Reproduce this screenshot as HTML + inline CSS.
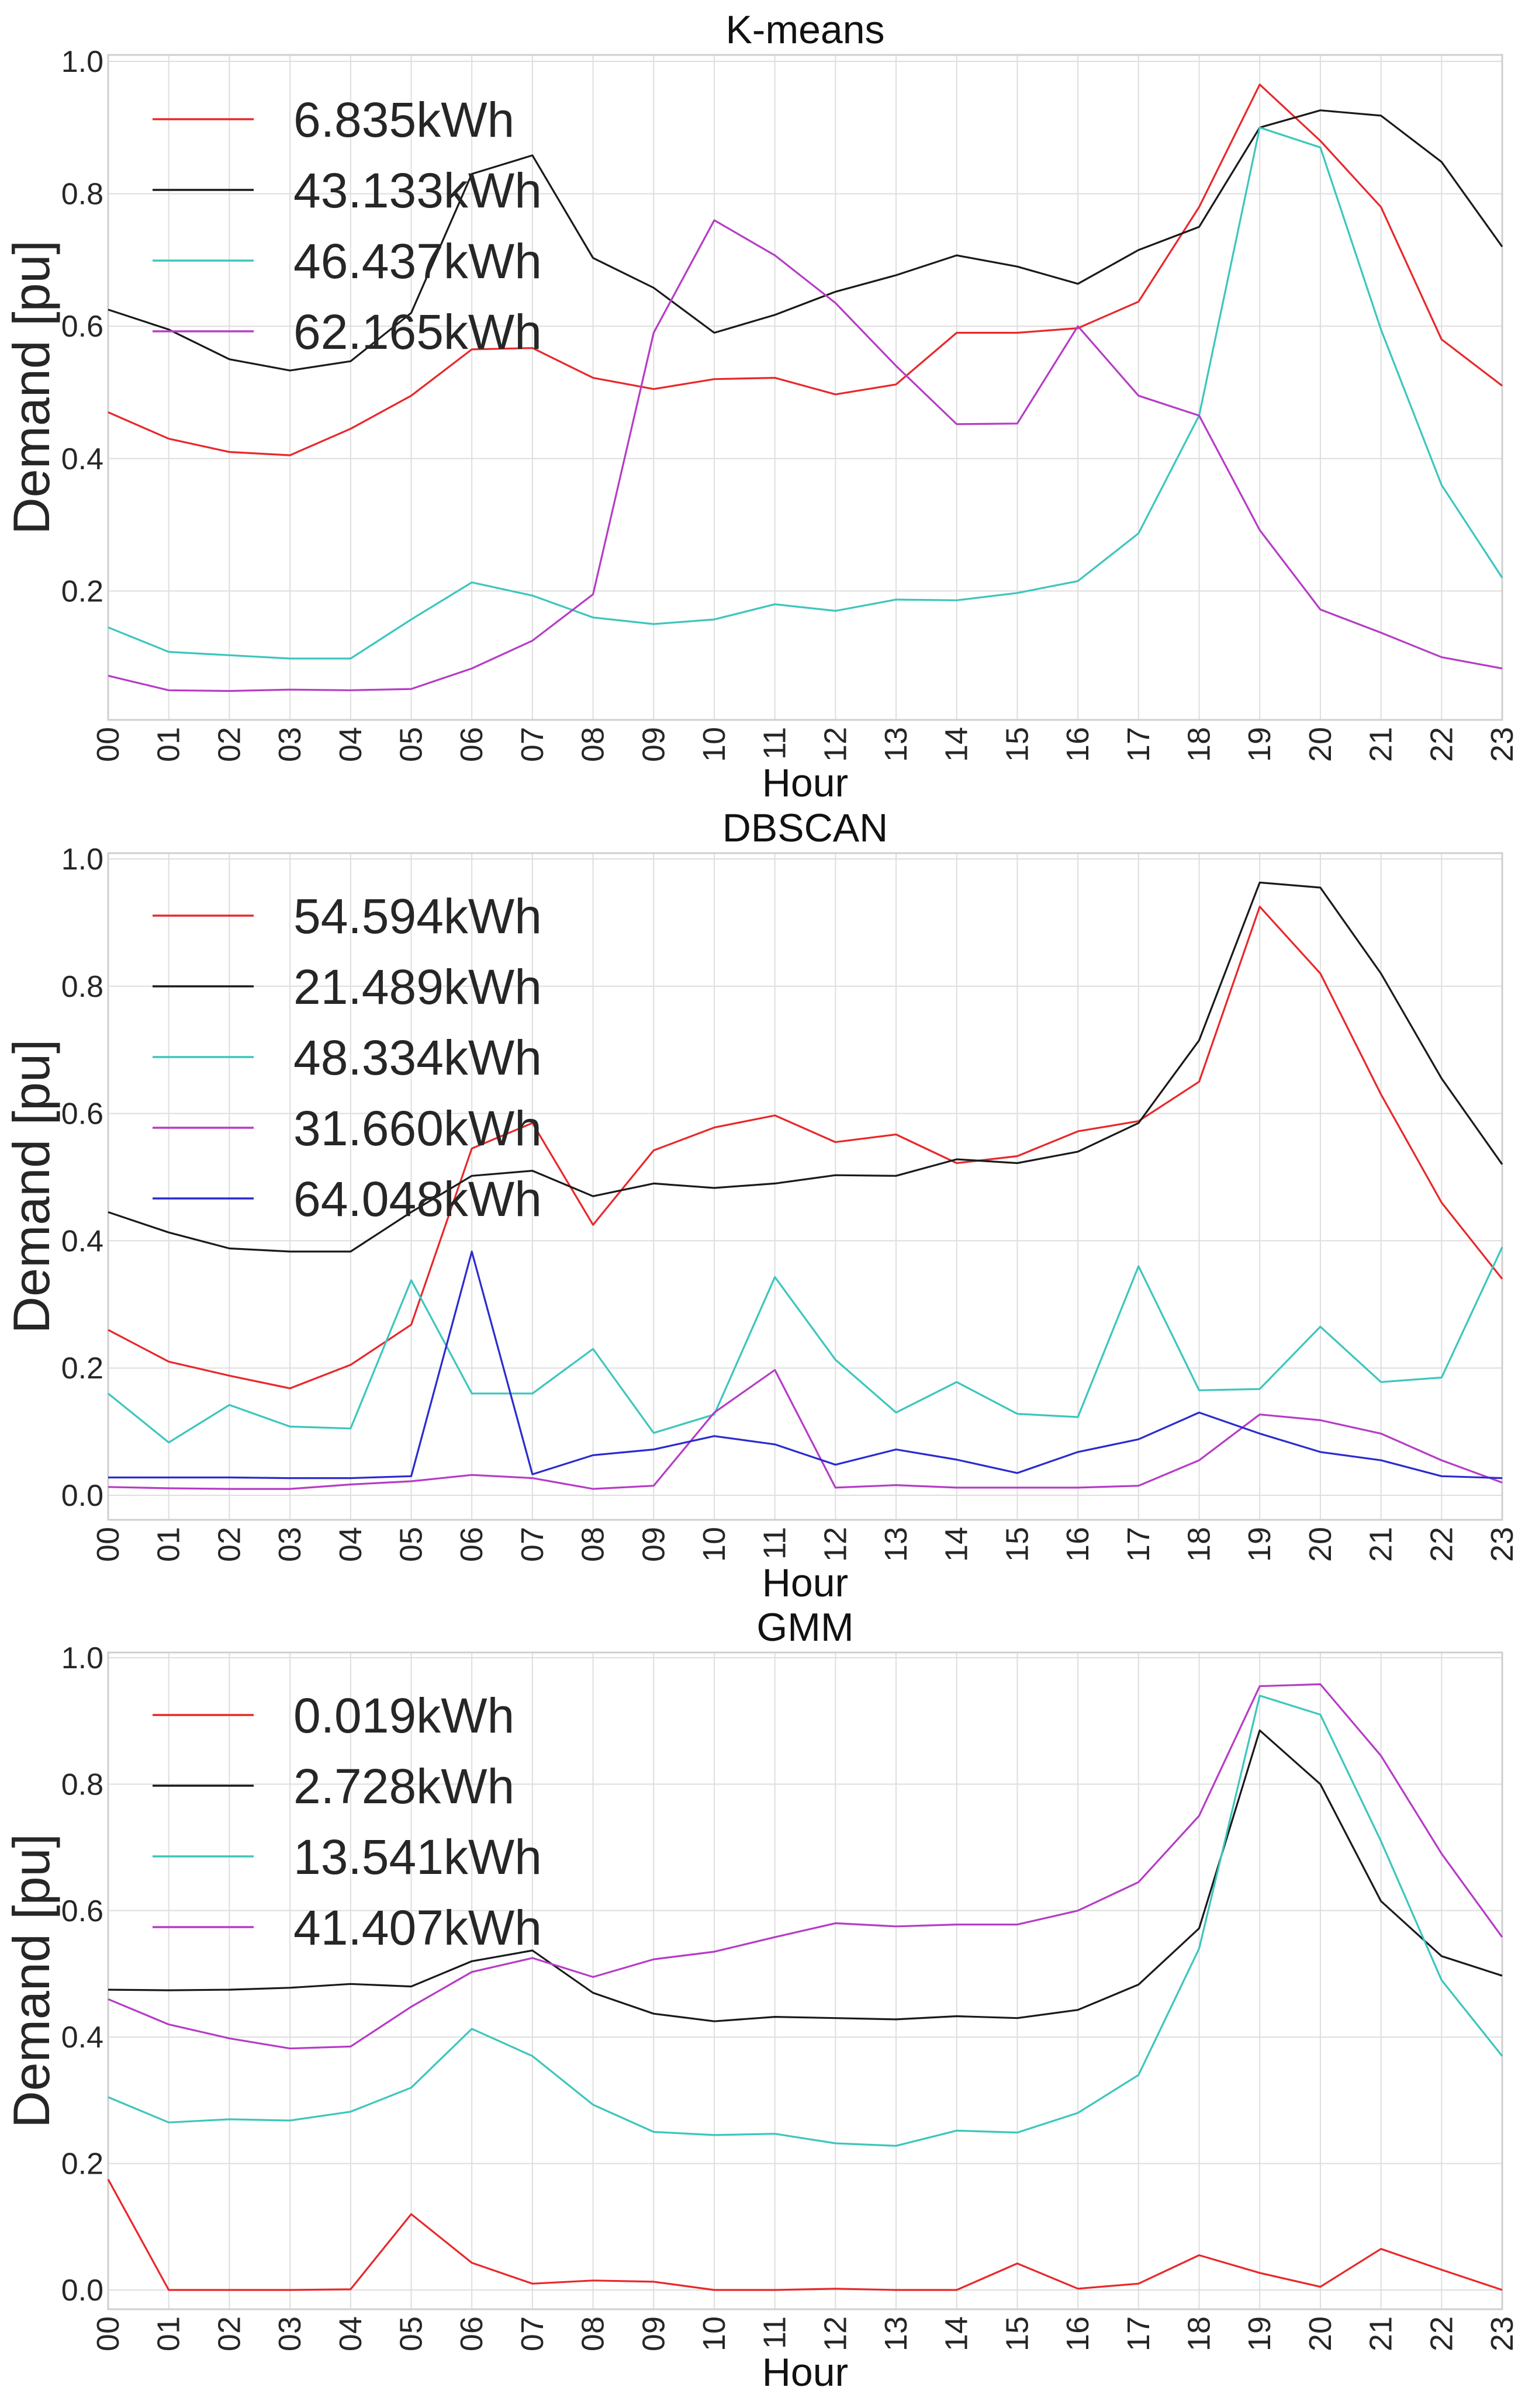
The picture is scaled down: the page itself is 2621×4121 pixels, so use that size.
<!DOCTYPE html>
<html><head><meta charset="utf-8"><style>
html,body{margin:0;padding:0;background:#fff;}
svg{display:block;font-family:"Liberation Sans",Arial,sans-serif;}
</style></head><body>
<svg id="fig" width="2621" height="4121" viewBox="0 0 2621 4121" xmlns="http://www.w3.org/2000/svg"></svg>
<script>
const hours = ["00","01","02","03","04","05","06","07","08","09","10","11","12","13","14","15","16","17","18","19","20","21","22","23"];
const kmeansLabels = ["6.835kWh","43.133kWh","46.437kWh","62.165kWh"];
const kmeansRed = [0.47,0.43,0.41,0.405,0.445,0.495,0.565,0.567,0.522,0.505,0.52,0.522,0.497,0.512,0.59,0.59,0.597,0.637,0.78,0.965,0.88,0.78,0.58,0.51];
const kmeansBlack = [0.625,0.595,0.55,0.533,0.547,0.62,0.83,0.858,0.703,0.658,0.59,0.617,0.652,0.677,0.707,0.69,0.664,0.715,0.75,0.9,0.926,0.918,0.848,0.72];
const kmeansCyan = [0.145,0.108,0.103,0.098,0.098,0.157,0.213,0.193,0.16,0.15,0.157,0.18,0.17,0.187,0.186,0.197,0.215,0.287,0.465,0.9,0.87,0.595,0.36,0.22];
const kmeansMagenta = [0.072,0.05,0.049,0.051,0.05,0.052,0.083,0.125,0.195,0.59,0.76,0.707,0.635,0.54,0.452,0.453,0.6,0.495,0.465,0.292,0.172,0.137,0.1,0.083];
const dbscanLabels = ["54.594kWh","21.489kWh","48.334kWh","31.660kWh","64.048kWh"];
const dbscanRed = [0.26,0.21,0.188,0.168,0.205,0.268,0.545,0.585,0.425,0.542,0.578,0.597,0.555,0.567,0.522,0.533,0.572,0.588,0.65,0.925,0.82,0.63,0.46,0.34];
const dbscanBlack = [0.445,0.413,0.388,0.383,0.383,0.445,0.502,0.51,0.47,0.49,0.483,0.49,0.503,0.502,0.528,0.522,0.54,0.585,0.715,0.963,0.955,0.82,0.655,0.52];
const dbscanCyan = [0.16,0.083,0.142,0.108,0.105,0.338,0.16,0.16,0.23,0.098,0.127,0.343,0.213,0.13,0.178,0.128,0.123,0.36,0.165,0.167,0.265,0.178,0.185,0.39];
const dbscanMagenta = [0.013,0.011,0.01,0.01,0.017,0.022,0.032,0.027,0.01,0.015,0.13,0.197,0.012,0.016,0.012,0.012,0.012,0.015,0.055,0.127,0.118,0.097,0.055,0.02];
const dbscanBlue = [0.028,0.028,0.028,0.027,0.027,0.03,0.383,0.033,0.063,0.072,0.093,0.08,0.048,0.072,0.056,0.035,0.068,0.088,0.13,0.097,0.068,0.055,0.03,0.027];
const gmmLabels = ["0.019kWh","2.728kWh","13.541kWh","41.407kWh"];
const gmmRed = [0.175,0,0,0,0.001,0.12,0.043,0.01,0.015,0.013,0,0,0.002,0,0,0.042,0.002,0.01,0.055,0.027,0.005,0.065,0.032,0];
const gmmBlack = [0.475,0.474,0.475,0.478,0.484,0.48,0.52,0.537,0.47,0.437,0.425,0.432,0.43,0.428,0.433,0.43,0.443,0.483,0.572,0.885,0.8,0.615,0.528,0.497];
const gmmCyan = [0.305,0.265,0.27,0.268,0.282,0.32,0.413,0.37,0.293,0.25,0.245,0.247,0.232,0.228,0.252,0.249,0.28,0.34,0.54,0.94,0.91,0.71,0.49,0.37];
const gmmMagenta = [0.46,0.42,0.398,0.382,0.385,0.448,0.503,0.525,0.495,0.523,0.535,0.558,0.58,0.575,0.578,0.578,0.6,0.645,0.75,0.955,0.958,0.845,0.69,0.558];
const kmeansTicks = ["0.2","0.4","0.6","0.8","1.0"];
const fullTicks = ["0.0","0.2","0.4","0.6","0.8","1.0"];

const COLORS = ["#e8282b","#1a1a1a","#3cc6bd","#b63cc6","#2b2bd0"];
const NS = "http://www.w3.org/2000/svg";
const svg = document.getElementById("fig");
function mk(tag, attrs, parent){const e=document.createElementNS(NS,tag);for(const k in attrs)e.setAttribute(k,attrs[k]);(parent||svg).appendChild(e);return e;}

const X0=185, X1=2570;
function xs(i){return X0+(X1-X0)*i/(hours.length-1);}

function panel(opt){
  const g=mk("g",{});
  
  
  const ys=v=>opt.y0-(opt.y0-opt.y1)*v;
  // gridlines
  hours.forEach((h,i)=>{
    const l=mk("line",{x1:xs(i),x2:xs(i),y1:opt.top,y2:opt.bot,stroke:"#dedede","stroke-width":2},g);
    
    
  });
  opt.ticks.forEach(t=>{
    const y=ys(parseFloat(t));
    const l=mk("line",{x1:X0,x2:X1,y1:y,y2:y,stroke:"#dedede","stroke-width":2},g);
    
    
    const tx=mk("text",{x:177,y:y+18,"text-anchor":"end","font-size":52,fill:"#262626"},g);
    tx.textContent=t;
    
    
  });
  const fr=mk("rect",{x:X0,y:opt.top,width:X1-X0,height:opt.bot-opt.top,fill:"none",stroke:"#cfcfcf","stroke-width":3},g);
  
  
  // x tick labels
  hours.forEach((h,i)=>{
    const x=xs(i)+18, y=opt.bot+12;
    const tx=mk("text",{x:x,y:y,"text-anchor":"end","font-size":54,fill:"#262626",transform:`rotate(-90 ${x} ${y})`},g);
    tx.textContent=h;
    
    
  });
  const xl=mk("text",{x:(X0+X1)/2,y:opt.bot+131,"text-anchor":"middle","font-size":68,fill:"#111"},g);
  xl.textContent="Hour";
  
  
  const tt=mk("text",{x:(X0+X1)/2,y:opt.top-20,"text-anchor":"middle","font-size":68,fill:"#111"},g);
  tt.textContent=opt.title;
  
  
  const cy=(opt.top+opt.bot)/2;
  const yl=mk("text",{x:84,y:cy,"text-anchor":"middle","font-size":88,fill:"#262626",transform:`rotate(-90 84 ${cy})`},g);
  yl.textContent="Demand  [pu]";
  
  
  // series
  opt.series.forEach((s,k)=>{
    const pts=s.map((v,i)=>xs(i).toFixed(1)+","+ys(v).toFixed(1)).join(" ");
    const pl=mk("polyline",{points:pts,fill:"none",stroke:COLORS[k],"stroke-width":3.2,"stroke-linejoin":"round"},g);
    
    
  });
  // legend
  opt.labels.forEach((lab,k)=>{
    const y=opt.legY+121*k;
    const lg=mk("g",{},g);
    
    
    mk("line",{x1:261,x2:434,y1:y,y2:y,stroke:COLORS[k],"stroke-width":3.5},lg);
    const tx=mk("text",{x:502,y:y+30,"font-size":84,fill:"#262626"},lg);
    tx.textContent=lab;
  });
}

panel({name:"kmeans",title:"K-means",top:94,bot:1232,y0:1238,y1:105,ticks:kmeansTicks,labels:kmeansLabels,
  series:[kmeansRed,kmeansBlack,kmeansCyan,kmeansMagenta],legY:204});
panel({name:"dbscan",title:"DBSCAN",top:1460,bot:2601,y0:2559,y1:1470,ticks:fullTicks,labels:dbscanLabels,
  series:[dbscanRed,dbscanBlack,dbscanCyan,dbscanMagenta,dbscanBlue],legY:1567});
panel({name:"gmm",title:"GMM",top:2828,bot:3952,y0:3919,y1:2837,ticks:fullTicks,labels:gmmLabels,
  series:[gmmRed,gmmBlack,gmmCyan,gmmMagenta],legY:2935});
</script>
</body></html>
